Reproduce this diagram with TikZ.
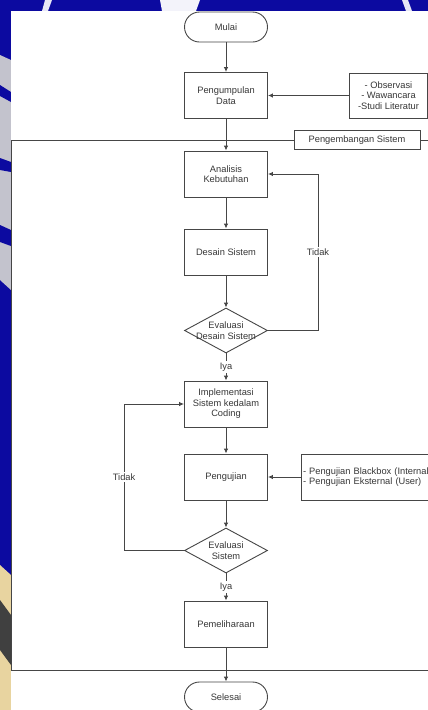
\documentclass[tikz,border=0pt]{standalone}
\usepackage{fontspec}
\setmainfont{Liberation Sans}
\usetikzlibrary{shapes.geometric,arrows.meta}
\definecolor{latar}{RGB}{12,10,160}
\definecolor{garis}{RGB}{70,70,70}
\definecolor{teks}{RGB}{55,55,55}
\definecolor{perak}{RGB}{195,195,205}
\definecolor{krem}{RGB}{232,212,160}

\tikzset{
  proses/.style={draw=garis, line width=0.9pt, fill=white, minimum width=83pt, minimum height=46pt, align=center, inner sep=1pt, text=teks},
  terminal/.style={draw=garis, line width=0.9pt, fill=white, rounded corners=15pt, minimum width=83pt, minimum height=30pt, text=teks},
  keputusan/.style={draw=garis, line width=0.9pt, fill=white, diamond, minimum width=83pt, minimum height=45pt, inner sep=0pt},
  masukan/.style={draw=garis, line width=0.9pt, fill=white, inner sep=2pt, text=teks},
  ket/.style={fill=white, inner sep=1.5pt, text=teks},
  panah/.style={draw=garis, line width=0.9pt, -{Latex[length=5pt,width=4.5pt]}},
}

\begin{document}
\begin{tikzpicture}[x=1pt,y=1pt,yscale=-1,font=\fontsize{9.3}{10.5}\selectfont]
    \useasboundingbox (0,0) rectangle (428,710);
    \clip (0,0) rectangle (428,710);

    % latar belakang
    \fill[latar] (0,0) rectangle (428,710);
    \fill[perak] (0,55) -- (11,60) -- (11,290) -- (0,280) -- cycle;
    \fill[latar] (0,85) -- (11,92) -- (11,102) -- (0,96) -- cycle;
    \fill[latar] (0,158) -- (11,162) -- (11,172) -- (0,170) -- cycle;
    \fill[latar] (0,225) -- (11,230) -- (11,246) -- (0,242) -- cycle;
    \fill[krem] (0,565) -- (11,575) -- (11,710) -- (0,710) -- cycle;
    \fill[black!75] (0,600) -- (11,615) -- (11,665) -- (0,650) -- cycle;
    \fill[white!90!latar] (45,0) -- (52,0) -- (48,11) -- (42,11) -- cycle;
    \fill[white!95!latar] (160,0) -- (200,0) -- (196,11) -- (162,11) -- cycle;
    \fill[white!90!latar] (402,0) -- (408,0) -- (412,11) -- (406,11) -- cycle;
    \fill[white] (11,11) rectangle (428,710);

    % kerangka pengembangan sistem
    \draw[garis, line width=0.9pt] (440,140) -- (11,140) -- (11,670) -- (440,670);
    \node[masukan, minimum width=126pt, minimum height=19pt] (bingkai) at (357,140) {Pengembangan Sistem};

    % simpul
    \node[terminal] (mulai) at (226,27) {Mulai};
    \node[proses] (kumpul) at (226,95.5) {Pengumpulan\\Data};
    \node[masukan, minimum width=78pt, minimum height=45pt, align=center] (metode) at (388.5,95.5) {- Observasi\\- Wawancara\\-Studi Literatur};
    \node[proses] (analisis) at (226,174) {Analisis\\Kebutuhan};
    \node[proses] (desain) at (226,252) {Desain Sistem};
    \node[keputusan, label={[align=center, text=teks]center:Evaluasi\\Desain Sistem}] (evdesain) at (226,330.5) {};
    \node[proses] (implementasi) at (226,404) {Implementasi\\Sistem kedalam\\Coding};
    \node[proses] (uji) at (226,477) {Pengujian};
    \node[masukan, text width=134pt, minimum height=46pt, align=left] (jenisuji) at (370,477) {- Pengujian Blackbox (Internal)\\- Pengujian Eksternal (User)};
    \node[keputusan, label={[align=center, text=teks]center:Evaluasi\\Sistem}] (evsistem) at (226,550.5) {};
    \node[proses] (pelihara) at (226,624) {Pemeliharaan};
    \node[terminal] (selesai) at (226,697) {Selesai};

    % alur
    \draw[panah] (mulai) -- (kumpul);
    \draw[panah] (metode) -- (kumpul);
    \draw[panah] (kumpul) -- (analisis);
    \draw[panah] (analisis) -- (desain);
    \draw[panah] (desain) -- (evdesain);
    \draw[panah] (evdesain.east) -- ++(50,0) |- (analisis.east) node[ket, pos=0.25] {Tidak};
    \draw[panah] (evdesain) -- (implementasi) node[ket, midway] {Iya};
    \draw[panah] (implementasi) -- (uji);
    \draw[panah] (jenisuji) -- (uji);
    \draw[panah] (uji) -- (evsistem);
    \draw[panah] (evsistem.west) -- ++(-60,0) |- (implementasi.west) node[ket, pos=0.25] {Tidak};
    \draw[panah] (evsistem) -- (pelihara) node[ket, midway] {Iya};
    \draw[panah] (pelihara) -- (selesai);

\end{tikzpicture}
\end{document}
